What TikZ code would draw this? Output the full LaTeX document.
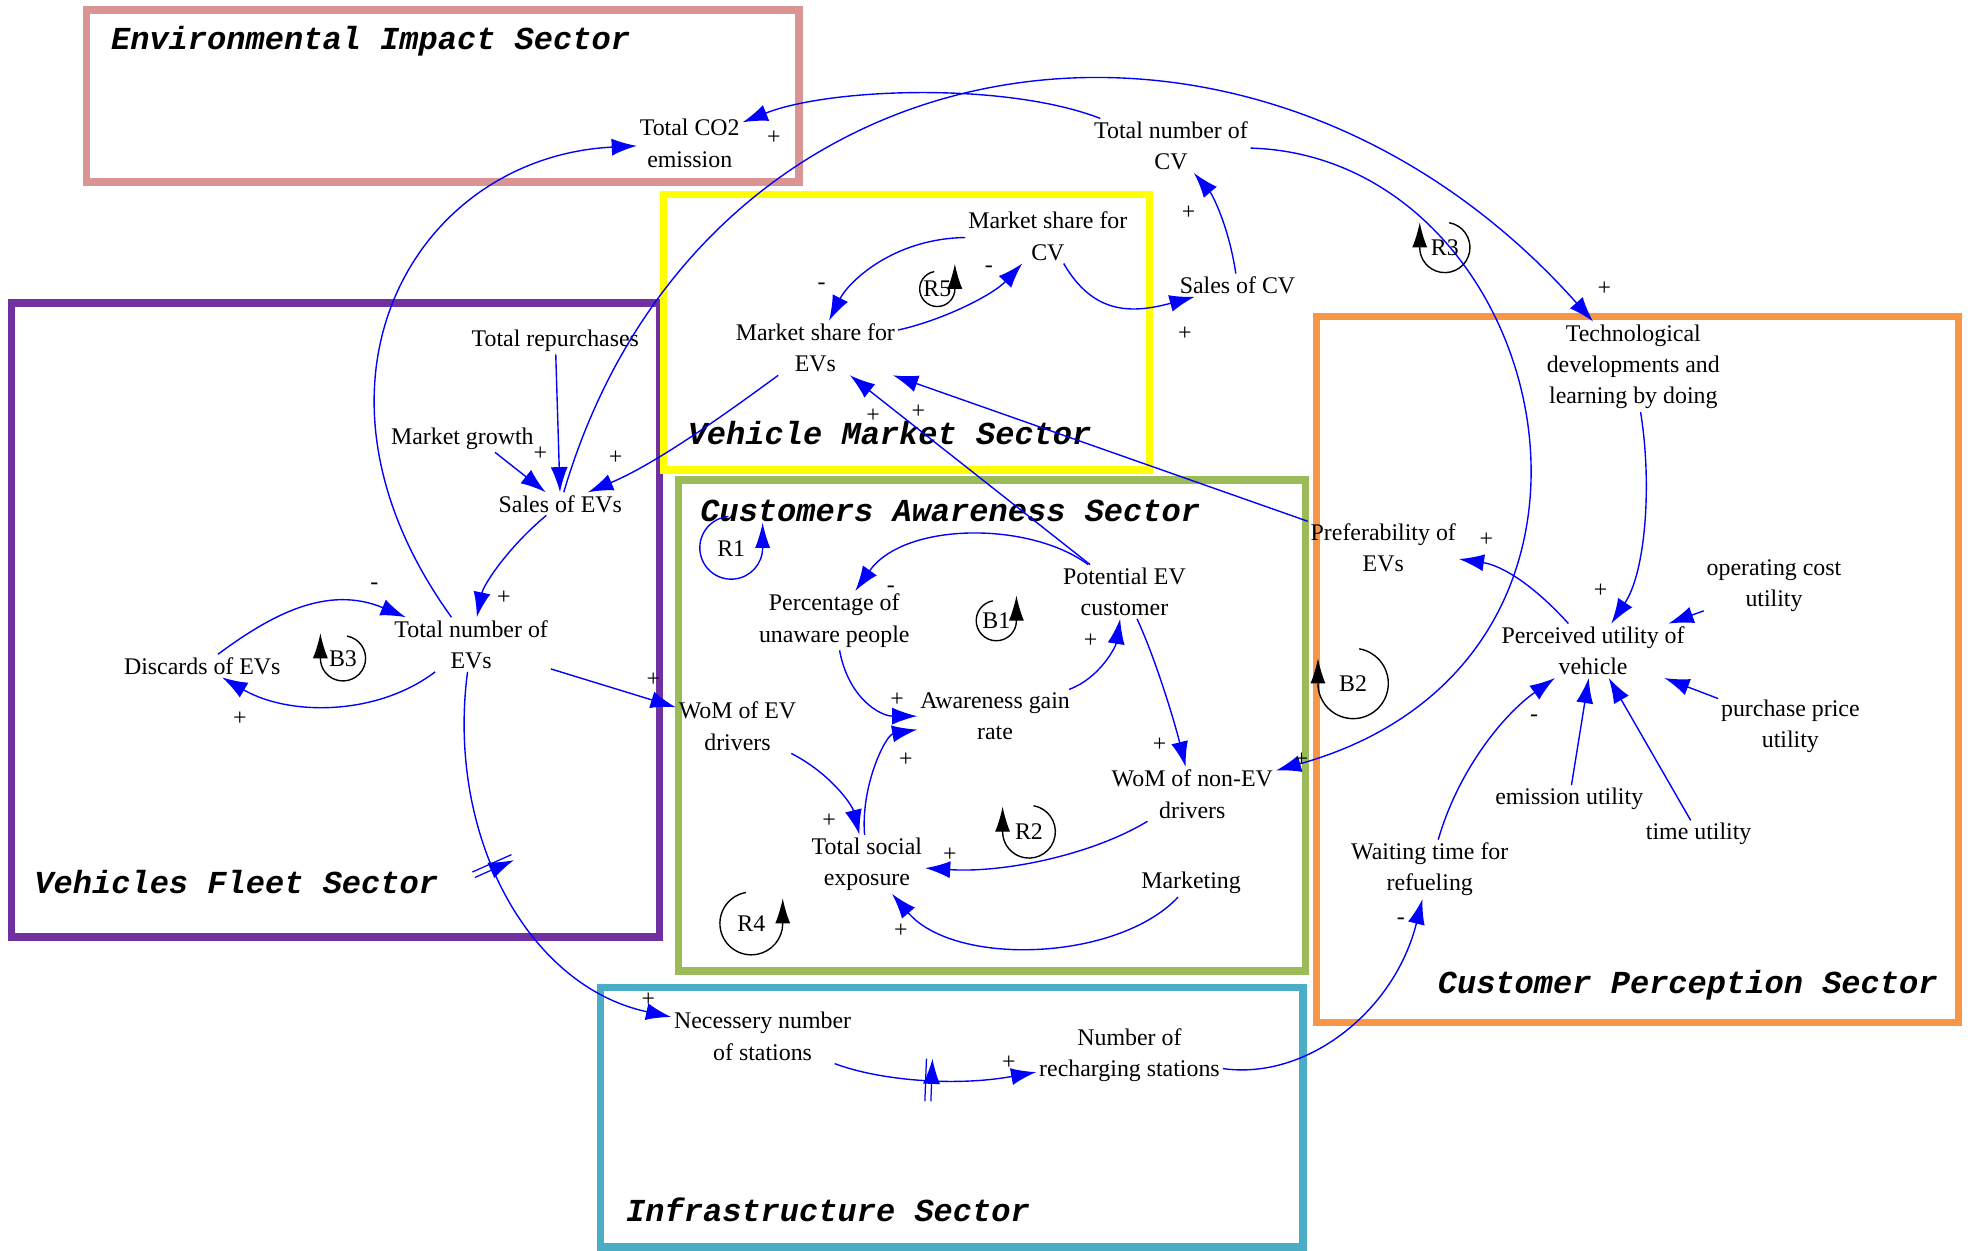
\documentclass[tikz,border=0pt]{standalone}
\usepackage{fontspec}
\setmainfont{Liberation Serif}
\newfontfamily\sectorfont{Liberation Mono}
\usetikzlibrary{arrows.meta}
\usetikzlibrary{decorations.markings}
\definecolor{envpink}{RGB}{217,149,148}
\definecolor{mktyellow}{RGB}{255,255,0}
\definecolor{fleetpurple}{RGB}{112,48,160}
\definecolor{awaregreen}{RGB}{155,187,89}
\definecolor{percorange}{RGB}{247,150,70}
\definecolor{infracyan}{RGB}{75,172,198}
\definecolor{linkblue}{RGB}{0,0,255}

\begin{document}
\begin{tikzpicture}[x=0.5pt, y=0.5pt,
 var/.style={align=center, inner sep=1pt, font=\fontsize{9.5}{12.5}\selectfont},
 sign/.style={inner sep=0pt, font=\fontsize{9.5}{11}\selectfont},
 sector/.style={line width=3pt},
 sectortitle/.style={anchor=west, inner sep=0pt, font=\sectorfont\fontsize{12.75}{15}\selectfont\bfseries\itshape},
 link/.style={draw=linkblue, line width=0.55pt, -{Latex[length=10pt, width=6.8pt]}},
 loopar/.style={line width=0.55pt, -{Latex[length=10pt, width=6pt]}},
 delay/.style={postaction={decorate, decoration={markings, mark=at position #1 with {\draw[linkblue, line width=0.5pt] (-1.2pt,-8.5pt) -- (-1.2pt,8.5pt) (1.2pt,-8.5pt) -- (1.2pt,8.5pt);}}}}]
\useasboundingbox (0,0) rectangle (1568,995);

 %sectors:
 \draw[sector, envpink] (69,987) rectangle (636,850);
 \draw[sector, fleetpurple] (9,754) rectangle (525,249);
 \draw[sector, mktyellow] (528,840) rectangle (915,621);
 \draw[sector, awaregreen] (540,613) rectangle (1039,222);
 \draw[sector, percorange] (1048,743) rectangle (1559,181);
 \draw[sector, infracyan] (478,209) rectangle (1037,2.5);

 \node[sectortitle] (envtitle) at (88,962) {Environmental Impact Sector};
 \node[sectortitle] (mkttitle) at (547,650) {Vehicle Market Sector};
 \node[sectortitle] (awaretitle) at (557,588) {Customers Awareness Sector};
 \node[sectortitle] (fleettitle) at (27,293) {Vehicles Fleet Sector};
 \node[sectortitle] (perctitle) at (1144,211) {Customer Perception Sector};
 \node[sectortitle] (infratitle) at (498,32) {Infrastructure Sector};

 %variables
 \node[var] (co2) at (549,881) {Total CO2\\emission};
 \node[var] (totcv) at (932,879) {Total number of\\CV};
 \node[var] (mscv) at (834,807) {Market share for\\CV};
 \node[var] (salescv) at (985,768) {Sales of CV};
 \node[var] (msev) at (649,718) {Market share for\\EVs};
 \node[var] (totrep) at (442,724) {Total repurchases};
 \node[var] (mktgrowth) at (368,646) {Market growth};
 \node[var] (salesev) at (446,594) {Sales of EVs};
 \node[var] (totev) at (375,482) {Total number of\\EVs};
 \node[var] (discards) at (161,465) {Discards of EVs};
 \node[var] (tech) at (1300,703) {Technological\\developments and\\learning by doing};
 \node[var] (pref) at (1101,559) {Preferability of\\EVs};
 \node[var] (potev) at (895,524) {Potential EV\\customer};
 \node[var] (unaware) at (664,501) {Percentage of\\unaware people};
 \node[var] (agr) at (792,425) {Awareness gain\\rate};
 \node[var] (womev) at (587,417) {WoM of EV\\drivers};
 \node[var] (womnonev) at (949,363) {WoM of non-EV\\drivers};
 \node[var] (tse) at (690,307) {Total social\\exposure};
 \node[var] (marketing) at (948,292) {Marketing};
 \node[var] (puv) at (1268,477) {Perceived utility of\\vehicle};
 \node[var] (opcost) at (1412,529) {operating cost\\utility};
 \node[var] (purchprice) at (1425,417) {purchase price\\utility};
 \node[var] (emisut) at (1249,359) {emission utility};
 \node[var] (timeut) at (1352,331) {time utility};
 \node[var] (waittime) at (1138,303) {Waiting time for\\refueling};
 \node[var] (necstations) at (607,170) {Necessery number\\of stations};
 \node[var] (numstations) at (899,155) {Number of\\recharging stations};

 %links
 \draw[link] (totcv) .. controls (800,930) and (660,925) .. (co2);
 \draw[link] (totev) .. controls (225,690) and (330,870) .. (co2);
 \draw[link] (salesev) .. controls (560,980) and (1000,1040) .. (tech);
 \draw[link] (totcv) .. controls (1235,870) and (1330,470) .. (womnonev);
 \draw[link] (salescv) .. controls (978,815) and (965,840) .. (totcv);
 \draw[link] (mscv) .. controls (870,745) and (900,745) .. (salescv);
 \draw[link] (mscv) .. controls (710,805) and (675,770) .. (msev);
 \draw[link] (msev) .. controls (750,740) and (790,760) .. (mscv);
 \draw[link] (msev) .. controls (570,660) and (520,625) .. (salesev);
 \draw[link] (totrep) -- (salesev);
 \draw[link] (mktgrowth.-23) -- (salesev);
 \draw[link] (salesev) .. controls (405,560) and (385,530) .. (totev);
 \draw[link] (totev) .. controls (300,425) and (230,425) .. (discards);
 \draw[link] (discards) .. controls (215,505) and (260,530) .. (totev);
 \draw[link] (totev) -- (womev);
 \draw[link, delay=0.45] (totev) .. controls (355,330) and (420,210) .. (necstations);
 \draw[link, delay=0.47] (necstations) .. controls (700,135) and (760,130) .. (numstations);
 \draw[link] (numstations) .. controls (1040,135) and (1110,190) .. (waittime);
 \draw[link] (waittime) .. controls (1160,380) and (1195,425) .. (puv);
 \draw[link] (emisut) -- (puv);
 \draw[link] (timeut) -- (puv);
 \draw[link] (purchprice) -- (puv);
 \draw[link] (opcost) -- (puv);
 \draw[link] (tech) .. controls (1315,610) and (1310,540) .. (puv);
 \draw[link] (puv) .. controls (1220,530) and (1195,545) .. (pref);
 \draw[link] (pref) -- (msev);
 \draw[link] (potev) -- (msev);
 \draw[link] (potev) .. controls (820,580) and (720,580) .. (unaware);
 \draw[link] (unaware) .. controls (675,440) and (700,425) .. (agr);
 \draw[link] (agr) .. controls (875,455) and (888,480) .. (potev);
 \draw[link] (potev) .. controls (920,470) and (935,420) .. (womnonev);
 \draw[link] (womev) .. controls (660,380) and (678,355) .. (tse);
 \draw[link] (tse) .. controls (685,370) and (705,410) .. (agr);
 \draw[link] (womnonev) .. controls (870,315) and (800,300) .. (tse);
 \draw[link] (marketing) .. controls (890,230) and (760,225) .. (tse);

 %polarities
 \foreach \sx/\sy/\s [count=\i] in {616/885/+, 1277/765/+, 1036/390/+, 946/826/+, 943/729/+,
   654/767/-, 787/781/-, 490/631/+, 430/634/+, 401/519/+, 191/423/+, 298/528/-, 520/454/+,
   516/199/+, 803/149/+, 1115/262/-, 1221/423/-, 1274/525/+, 1183/565/+, 731/667/+, 695/664/+,
   709/526/-, 714/438/+, 868/485/+, 923/402/+, 660/342/+, 721/390/+, 756/315/+, 717/254/+}
   \node[sign] (sign\i) at (\sx,\sy) {\s};

 %loops
 \foreach \cx/\cy/\r/\lab in {1077/451/28/B2, 273/471/18/B3, 819/333/21/R2, 1150/798/20/R3}{
   \draw[loopar] (\cx,\cy) ++(80:\r) arc[start angle=80, end angle=-180, radius=\r] -- ++(0,20);
   \node[var] (loop\lab) at (\cx,\cy) {\lab};
 }
 \foreach \cx/\cy/\r/\lab in {793/501/16/B1, 598/260/25/R4, 746/765/14/R5}{
   \draw[loopar] (\cx,\cy) ++(100:\r) arc[start angle=100, end angle=360, radius=\r] -- ++(0,20);
   \node[var] (loop\lab) at (\cx,\cy) {\lab};
 }
 \draw[loopar, linkblue] (582,559) ++(95:25) arc[start angle=95, end angle=360, radius=25] -- ++(0,20);
 \node[var] (loopR1) at (582,558) {R1};
\end{tikzpicture}
\end{document}
